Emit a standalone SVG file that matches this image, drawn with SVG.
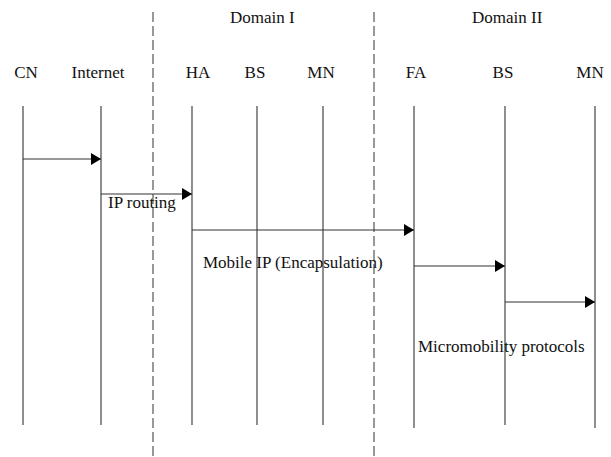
<svg xmlns="http://www.w3.org/2000/svg" width="611" height="457" viewBox="0 0 611 457">
<style>
.life{stroke:#444;stroke-width:1.2}
.dash{stroke:#555;stroke-width:1.2;stroke-dasharray:10 4}
.msg{stroke:#333;stroke-width:1.2;fill:none;marker-end:url(#ah)}
</style>
<defs>
<marker id="ah" viewBox="0 0 10 12" refX="10" refY="6" markerWidth="11" markerHeight="12" markerUnits="userSpaceOnUse" orient="auto">
<path d="M0,0 L10,6 L0,12 Z" fill="#000"/>
</marker>
</defs>
<rect width="611" height="457" fill="#fff"/>
<g font-family="Liberation Serif, Times New Roman, DejaVu Serif, serif" font-size="17" fill="#111">
<g id="domains">
<line class="dash" x1="153" y1="12" x2="153" y2="457"/>
<line class="dash" x1="374" y1="12" x2="374" y2="457"/>
<text x="230" y="23">Domain I</text>
<text x="472" y="23">Domain II</text>
</g>
<g id="CN"><text x="26" y="78" text-anchor="middle">CN</text><line class="life" x1="23" y1="106" x2="23" y2="425"/></g>
<g id="Internet"><text x="98" y="78" text-anchor="middle">Internet</text><line class="life" x1="101" y1="106" x2="101" y2="425"/></g>
<g id="HA"><text x="198" y="78" text-anchor="middle">HA</text><line class="life" x1="192" y1="106" x2="192" y2="425"/></g>
<g id="BS1"><text x="255" y="78" text-anchor="middle">BS</text><line class="life" x1="257" y1="106" x2="257" y2="425"/></g>
<g id="MN1"><text x="321" y="78" text-anchor="middle">MN</text><line class="life" x1="323" y1="106" x2="323" y2="425"/></g>
<g id="FA"><text x="416" y="78" text-anchor="middle">FA</text><line class="life" x1="414" y1="106" x2="414" y2="428"/></g>
<g id="BS2"><text x="503" y="78" text-anchor="middle">BS</text><line class="life" x1="505" y1="106" x2="505" y2="425"/></g>
<g id="MN2"><text x="590" y="78" text-anchor="middle">MN</text><line class="life" x1="595" y1="106" x2="595" y2="428"/></g>
<g id="connectors">
<line class="msg" x1="23" y1="159" x2="101" y2="159"/>
<line class="msg" x1="101" y1="194" x2="192" y2="194"/>
<line class="msg" x1="192" y1="230" x2="414" y2="230"/>
<line class="msg" x1="414" y1="266" x2="505" y2="266"/>
<line class="msg" x1="505" y1="302" x2="595" y2="302"/>
<text x="108" y="208">IP routing</text>
<text x="203" y="268">Mobile IP (Encapsulation)</text>
<text x="418" y="352">Micromobility protocols</text>
</g>
</g>
</svg>
